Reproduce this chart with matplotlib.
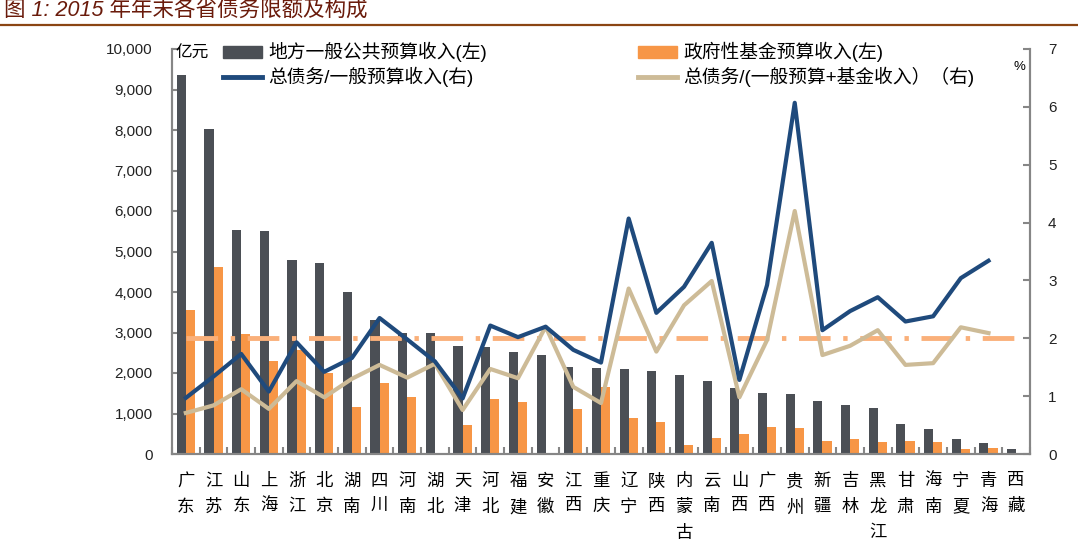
import numpy as np
import matplotlib.pyplot as plt
from matplotlib.patches import Patch
from matplotlib.lines import Line2D
from matplotlib.ticker import FuncFormatter

plt.rcParams['font.family'] = ['Liberation Sans', 'Noto Sans CJK SC', 'DejaVu Sans']

provinces = ["广东", "江苏", "山东", "上海", "浙江", "北京", "湖南", "四川", "河南", "湖北",
             "天津", "河北", "福建", "安徽", "江西", "重庆", "辽宁", "陕西", "内蒙古", "云南",
             "山西", "广西", "贵州", "新疆", "吉林", "黑龙江", "甘肃", "海南", "宁夏", "青海", "西藏"]

# 地方一般公共预算收入 (亿元)
general_budget = [9350, 8016, 5523, 5506, 4798, 4716, 4000, 3320, 3000, 2995,
                  2655, 2630, 2530, 2440, 2150, 2135, 2110, 2045, 1945, 1797,
                  1625, 1498, 1481, 1317, 1210, 1144, 733, 617, 362, 263, 123]

# 政府性基金预算收入 (亿元)
fund_budget = [3547, 4609, 2971, 2305, 2568, 2008, 1160, 1753, 1416, np.nan,
               716, 1366, 1292, np.nan, 1111, 1646, 897, 782, 230, 387,
               502, 675, 650, 321, 362, 288, 329, 305, 123, 140, 33]

# 总债务/一般预算收入
debt_to_general = [0.97, 1.34, 1.73, 1.08, 1.93, 1.42, 1.66, 2.35, 1.98, 1.60,
                   0.96, 2.22, 2.02, 2.20, 1.80, 1.58, 4.07, 2.44, 2.89, 3.65,
                   1.28, 2.92, 6.07, 2.14, 2.47, 2.71, 2.29, 2.38, 3.04, 3.34, np.nan]

# 总债务/(一般预算+基金收入)
debt_to_total = [0.71, 0.84, 1.12, 0.78, 1.26, 0.98, 1.30, 1.54, 1.32, 1.56,
                 0.76, 1.47, 1.31, 2.20, 1.16, 0.88, 2.86, 1.77, 2.57, 2.99,
                 0.98, 1.97, 4.20, 1.71, 1.87, 2.14, 1.54, 1.57, 2.19, 2.09, np.nan]

warning_level = [2.0] * len(provinces)

c_dark = '#4B4F55'
c_orange = '#F79646'
c_blue = '#1F4A7C'
c_tan = '#CDBB97'
c_dash = '#FAB07A'
c_spine = '#868686'

fig = plt.figure(figsize=(10.78, 5.59), dpi=100)
ax = fig.add_axes([172 / 1078, 105 / 559, 858 / 1078, 405 / 559])
ax2 = ax.twinx()

x = np.arange(len(provinces))
w = 0.33
ax.bar(x - w / 2, general_budget, width=w, color=c_dark, zorder=2)
ax.bar(x + w / 2, fund_budget, width=w, color=c_orange, zorder=2)

ax.set_xlim(-0.5, len(provinces) - 0.5)
ax.set_ylim(0, 10000)
ax.set_yticks(np.arange(0, 10001, 1000))
ax.yaxis.set_major_formatter(FuncFormatter(lambda v, p: "{:,.0f}".format(v)))

ax2.plot(x, warning_level, color=c_dash, lw=3.5, dashes=[6.5, 2.6, 0.9, 2.6], zorder=1)
ax2.plot(x, debt_to_total, color=c_tan, lw=3, zorder=3)
ax2.plot(x, debt_to_general, color=c_blue, lw=3, zorder=4)
ax2.set_ylim(0, 7)
ax2.set_yticks(range(0, 8))

# x axis: ticks between categories, labels vertical
ax.set_xticks(np.arange(-0.5, len(provinces), 1))
ax.set_xticklabels([])
ax.set_xticks(x, minor=True)
ax.set_xticklabels(["\n".join(p) for p in provinces], minor=True,
                   fontsize=12.5, linespacing=1.75)
ax.tick_params(axis='x', which='major', direction='in', length=5, width=1.5, color=c_spine)
ax.tick_params(axis='x', which='minor', length=0, pad=14)

ax.tick_params(axis='y', direction='in', length=5, width=1.5, color=c_spine,
               labelsize=11, pad=14, labelcolor='#222222')
ax2.tick_params(axis='y', direction='in', length=5, width=1.5, color=c_spine,
                labelsize=11, pad=13, labelcolor='#222222')

for a in (ax, ax2):
    a.spines['top'].set_visible(False)
    for s in ('left', 'right', 'bottom'):
        a.spines[s].set_color(c_spine)
        a.spines[s].set_linewidth(1.5)

fig.text(175 / 1078, 1 - 46 / 559, "亿元", fontsize=12, va='top', ha='left')
fig.text(1014 / 1078, 1 - 61 / 559, "%", fontsize=9.5, va='top', ha='left')

leg_kw = dict(loc='upper left', bbox_transform=fig.transFigure, frameon=False,
              borderpad=0, borderaxespad=0, fontsize=13.5, handlelength=2.1,
              handleheight=0.6, handletextpad=0.3, labelspacing=0.25)

leg1 = ax2.legend([Patch(color=c_dark), Line2D([], [], color=c_blue, lw=3.5)],
                  ["地方一般公共预算收入(左)", "总债务/一般预算收入(右)"],
                  bbox_to_anchor=(223 / 1078, 1 - 42 / 559), **leg_kw)
ax2.add_artist(leg1)
leg2 = ax2.legend([Patch(color=c_orange), Line2D([], [], color=c_tan, lw=3.5)],
                  ["政府性基金预算收入(左)", "总债务/(一般预算+基金收入）（右)"],
                  bbox_to_anchor=(638 / 1078, 1 - 42 / 559), **leg_kw)
leg1.set_zorder(10)
leg2.set_zorder(10)

fig.text(0.004, 1 - 0 / 559, "图 1: 2015 年年末各省债务限额及构成", fontsize=15.5,
         style='italic', color='#6A1B0B', va='top', ha='left')
fig.add_artist(Line2D([0, 1], [1 - 25 / 559, 1 - 25 / 559], transform=fig.transFigure,
                      color='#8B4513', lw=1.6))

plt.savefig("out.png", dpi=100)
plt.close()
